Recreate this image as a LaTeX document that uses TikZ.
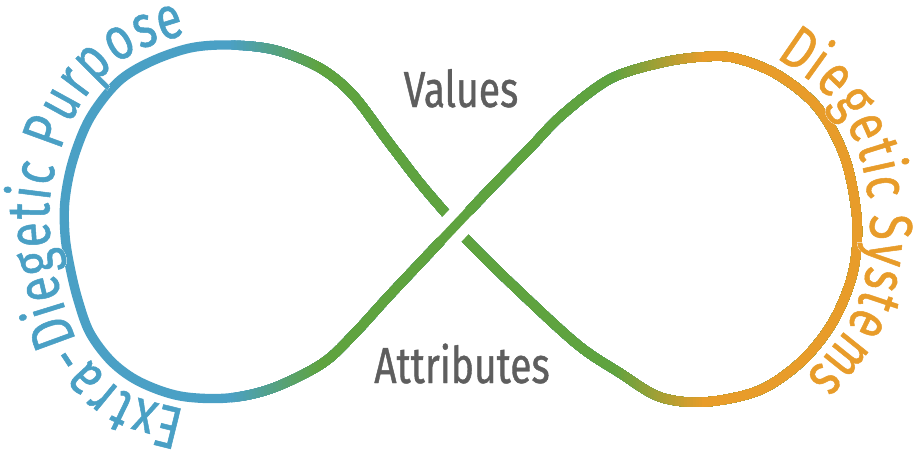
\documentclass[tikz,border=0pt]{standalone}
\usepackage{fontspec}
\setmainfont{Fira Sans}[FakeStretch=0.77, FakeBold=0.8]
\usetikzlibrary{calc,decorations.text}
\definecolor{ifblue}{RGB}{74,160,197}
\definecolor{ifgreen}{RGB}{95,163,63}
\definecolor{iforange}{RGB}{232,156,42}
\definecolor{ifgray}{RGB}{94,94,94}
\newcommand{\curvefont}{\fontsize{45}{45}\selectfont}
% the infinity loop, in pixels of the reference
\newcommand{\infloop}{plot[smooth cycle, tension=0.55] coordinates {
  (455,226) (490,189) (530,148) (562,115) (610,79) (660,63) (700,57) (735,58)
  (778,75) (818,108) (845,158) (857,220) (853,272) (834,320) (803,360)
  (760,390) (705,402) (660,397) (620,373) (578,345) (520,292) (467,240)
  (448,216) (420,183) (387,140) (353,95) (320,68) (275,50) (230,45) (190,48)
  (150,62) (118,82) (90,118) (73,160) (65,200) (65,235) (70,267) (78,300)
  (90,333) (112,362) (140,382) (180,396) (228,398) (273,388) (323,363)
  (355,333) (387,298) (420,263)}}
% curve through named points #11 ... #1(#2+1), with #10 and #1(#2+2) as guides
\newcommand{\tpath}[2]{(#11) \foreach \i [evaluate=\i as \h using int(\i-1),
    evaluate=\i as \j using int(\i+1), evaluate=\i as \k using int(\i+2)] in {1,...,#2}
  { .. controls ($(#1\i)+0.1667*(#1\j)-0.1667*(#1\h)$)
      and ($(#1\j)-0.1667*(#1\k)+0.1667*(#1\i)$) .. (#1\j) }}

\begin{document}
\begin{tikzpicture}[x=0.75pt, y=-0.75pt,
    loopline/.style={line width=7pt},
    lbl/.style={font=\fontsize{38}{38}\selectfont, text=ifgray, inner sep=0pt, anchor=base},
    curved/.style={decorate, decoration={text along path, text align={fit to path}, text={|\curvefont|#1}}}
  ]
  \fill[white] (0,0) rectangle (913,450);
  \useasboundingbox (0,0) rectangle (913,450);

  % blue lobe, then blend to green
  \draw[loopline, ifblue] \infloop;
  \foreach \i in {1,...,30}{
    \pgfmathsetmacro{\xs}{228+3*\i}
    \pgfmathtruncatemacro{\pc}{100*\i/30}
    \begin{scope}
      \clip (\xs,-10) rectangle (920,460);
      \draw[loopline, ifgreen!\pc!ifblue] \infloop;
    \end{scope}
  }
  % blend from green to orange
  \foreach \i in {1,...,30}{
    \pgfmathsetmacro{\xs}{612+3*\i}
    \pgfmathtruncatemacro{\pc}{100*\i/30}
    \begin{scope}
      \clip (\xs,-10) rectangle (920,460);
      \draw[loopline, iforange!\pc!ifgreen] \infloop;
    \end{scope}
  }

  % crossing: gap in the strand underneath
  \coordinate (ovA) at (420,263);
  \coordinate (ovB) at (490,189);
  \draw[line width=23pt, white] ($(ovA)!0.3!(ovB)$) -- ($(ovA)!0.7!(ovB)$);
  \draw[loopline, ifgreen] ($(ovA)!0.25!(ovB)$) -- ($(ovA)!0.75!(ovB)$);

  % baselines of the curved labels
  \foreach \x/\y [count=\n from 0] in {238/425, 185/410, 132/395, 102/373, 78/342,
      64.5/306.5, 55.5/271, 50/236, 50/198, 59/155, 77.6/109.6, 108/71, 142.5/49,
      186/34, 229.5/19}
    \coordinate (l\n) at (\x,\y);
  \foreach \x/\y [count=\n from 0] in {724/17, 776/57, 828/97, 858/151, 870/219,
      865.5/276, 845.5/328, 806/377, 765.5/426}
    \coordinate (r\n) at (\x,\y);

  % curved labels with a thin white halo
  \foreach \a in {0,45,...,315}{
    \begin{scope}[shift={(\a:2)}]
      \path[curved={Extra-Diegetic Purpose}, decoration={text color=white}] \tpath{l}{12};
      \path[curved={Diegetic Systems}, decoration={text color=white}] \tpath{r}{6};
    \end{scope}
  }
  \path[curved={Extra-Diegetic Purpose}, decoration={text color=ifblue}] \tpath{l}{12};
  \path[curved={Diegetic Systems}, decoration={text color=iforange}] \tpath{r}{6};

  \node[lbl] (values) at (461,107) {Values};
  \node[lbl] (attrs) at (462,383) {Attributes};
\end{tikzpicture}
\end{document}
